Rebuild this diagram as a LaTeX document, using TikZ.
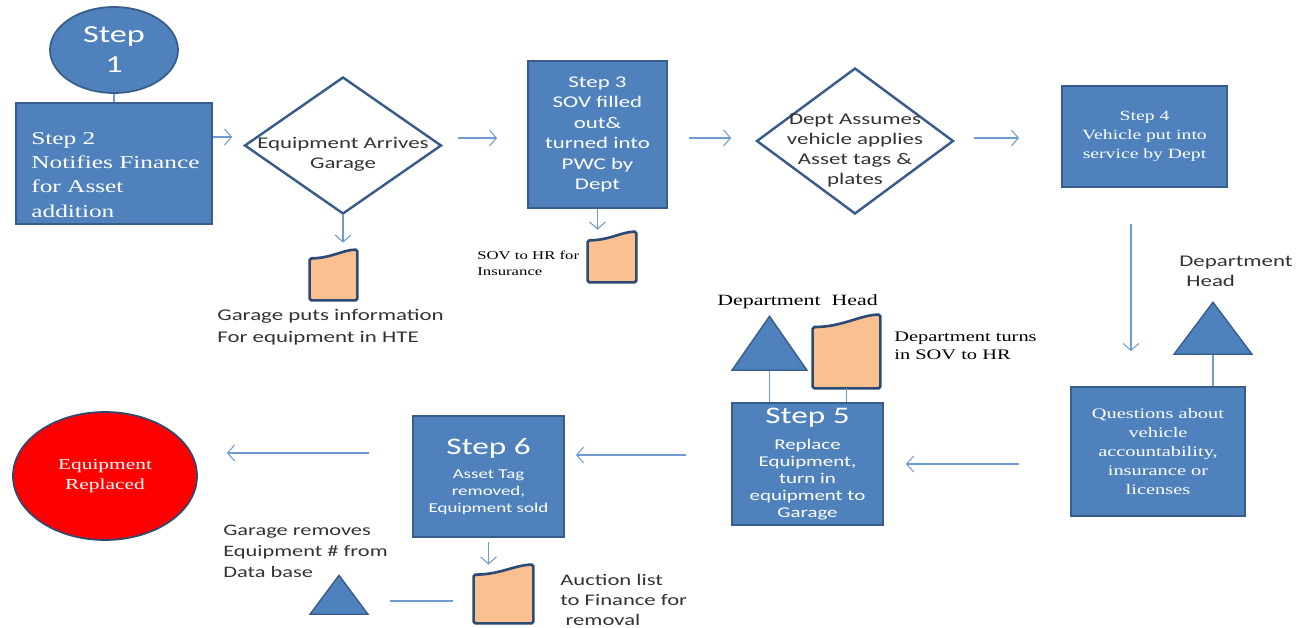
\documentclass[tikz,border=0pt]{standalone}
\usepackage{fontspec}
\setmainfont{Liberation Serif}[FakeStretch=1.4]
\setsansfont{Carlito}[FakeStretch=1.4]
\usepackage{tikz}
\usetikzlibrary{shapes.geometric,arrows.meta,positioning}

\definecolor{StepBlue}{HTML}{4F81BD}
\definecolor{StepEdge}{HTML}{385D8A}
\definecolor{FlowBlue}{HTML}{6F9BD1}
\definecolor{DocFill}{HTML}{FAC090}
\definecolor{DocEdge}{HTML}{2B4A75}
\definecolor{NoteGray}{HTML}{333333}

% document symbol drawn over an empty box node: name, width, height (px)
\newcommand{\DrawDoc}[3]{%
  \draw[DocLine] (#1.south west) -- ++(0,-0.84*#3)
    .. controls +(0.45*#2,0) and ([xshift=-0.3*#2*0.02cm]#1.north east) .. (#1.north east)
    -- (#1.south east) -- cycle;}

\begin{document}
\begin{tikzpicture}[x=0.02cm,y=-0.02cm]
		\tikzstyle{StepBox}	= [rectangle, draw=StepEdge, line width=1pt, fill=StepBlue, text=white, align=center, inner sep=0pt]
		\tikzstyle{StepOval}	= [ellipse, draw=StepEdge, line width=1pt, fill=StepBlue, text=white, align=center, inner sep=0pt]
		\tikzstyle{EndOval}	= [ellipse, draw=StepEdge!80!black, line width=1pt, fill=red, text=white, align=center, inner sep=0pt]
		\tikzstyle{Decision}	= [diamond, draw=StepEdge, line width=1.4pt, fill=white, inner sep=0pt]
		\tikzstyle{DecText}	= [align=center, text=NoteGray, inner sep=0pt, font=\sffamily\fontsize{9.3}{11.4}\selectfont]
		\tikzstyle{Person}	= [isosceles triangle, isosceles triangle stretches, shape border rotate=90, anchor=south, draw=StepEdge, line width=0.8pt, fill=StepBlue, inner sep=0pt]
		\tikzstyle{DocBox}	= [rectangle, inner sep=0pt]
		\tikzstyle{DocLine}	= [draw=DocEdge, line width=1.5pt, fill=DocFill, rounded corners=1pt]
		\tikzstyle{Flow}	= [draw=FlowBlue, line width=0.6pt, -{Straight Barb[length=4pt,width=9pt]}]
		\tikzstyle{Link}	= [draw=FlowBlue, line width=0.8pt]
		\tikzstyle{SansNote}	= [anchor=west, align=left, text=NoteGray, inner sep=0pt]
		\tikzstyle{SerifNote}	= [anchor=west, align=left, text=black, inner sep=0pt]

		\useasboundingbox (0,0) rectangle (1303,628);

		% top row
		\node (step1) at (114,50) [StepOval, minimum width=2.56cm, minimum height=1.72cm, font=\sffamily\fontsize{13.9}{17}\selectfont] {Step\\1};
		\node (step2) at (114,163.5) [StepBox, minimum width=3.92cm, minimum height=2.42cm] {};
		\node (step2txt) at (31,175) [SerifNote, text=white, font=\rmfamily\fontsize{10.3}{13.7}\selectfont] {Step 2\\Notifies Finance\\for Asset\\addition};

		\node (dia1) at (343,145.5) [Decision, minimum width=3.94cm, minimum height=2.74cm] {};
		\node (dia1txt) at (343,154) [DecText] {Equipment Arrives\\Garage};
		\node (doc1) at (333.5,275) [DocBox, minimum width=0.94cm, minimum height=1cm] {};
		\node (note1) at (217,327) [SansNote, font=\sffamily\fontsize{9.3}{12.5}\selectfont] {Garage puts information\\For equipment in HTE};

		\node (step3) at (597.5,134.5) [StepBox, minimum width=2.78cm, minimum height=2.94cm, font=\sffamily\fontsize{9.3}{11.7}\selectfont] {Step 3\\SOV filled\\out\&\\turned into\\PWC by\\Dept};
		\node (doc2) at (612,257) [DocBox, minimum width=0.96cm, minimum height=1cm] {};
		\node (note2) at (477,263) [SerifNote, font=\rmfamily\fontsize{6.8}{9.1}\selectfont] {SOV to HR for\\Insurance};

		\node (dia2) at (855,141) [Decision, minimum width=3.94cm, minimum height=2.92cm] {};
		\node (dia2txt) at (855,150.5) [DecText] {Dept Assumes\\vehicle applies\\Asset tags \&\\plates};

		\node (step4) at (1144.5,136.5) [StepBox, minimum width=3.3cm, minimum height=2.02cm, font=\rmfamily\fontsize{8}{10.8}\selectfont] {Step 4\\Vehicle put into\\service by Dept};

		% right side
		\node (headR) at (1213,355) [Person, minimum width=1.56cm, minimum height=1.04cm] {};
		\node (noteR) at (1179,271) [SansNote, font=\sffamily\fontsize{9.3}{11.4}\selectfont] {Department\\\hspace*{4pt}Head};
		\node (questions) at (1158,451.5) [StepBox, minimum width=3.48cm, minimum height=2.58cm, font=\rmfamily\fontsize{8.3}{10.8}\selectfont] {Questions about\\vehicle\\accountability,\\insurance or\\licenses};

		% bottom row
		\node (step5) at (807.5,464) [StepBox, minimum width=3.02cm, minimum height=2.44cm, font=\sffamily\fontsize{8.5}{9.7}\selectfont] {{\fontsize{13.5}{15}\selectfont Step 5}\\[5pt]Replace\\Equipment,\\turn in\\equipment to\\Garage};
		\node (headL) at (769.5,371) [Person, minimum width=1.5cm, minimum height=1.08cm] {};
		\node (doc3) at (846.5,351.5) [DocBox, minimum width=1.34cm, minimum height=1.46cm] {};
		\node (noteL) at (717,302) [SerifNote, font=\rmfamily\fontsize{8.9}{10.2}\selectfont] {Department\ \ Head};
		\node (note3) at (894,346) [SerifNote, font=\rmfamily\fontsize{8.3}{10.2}\selectfont] {Department turns\\in SOV to HR};

		\node (step6) at (488.5,476.5) [StepBox, minimum width=3.02cm, minimum height=2.42cm, font=\sffamily\fontsize{7.7}{9.7}\selectfont] {{\fontsize{13.5}{15}\selectfont Step 6}\\[4pt]Asset Tag\\removed,\\Equipment sold};
		\node (doc4) at (503.5,594) [DocBox, minimum width=1.18cm, minimum height=1.16cm] {};
		\node (note4) at (560,600) [SansNote, font=\sffamily\fontsize{9.2}{11.4}\selectfont] {Auction list\\to Finance for\\\hspace*{3pt}removal};
		\node (headG) at (339,615) [Person, minimum width=1.16cm, minimum height=0.78cm] {};
		\node (note5) at (223,551) [SansNote, font=\sffamily\fontsize{9.1}{12}\selectfont] {Garage removes\\Equipment \# from\\Data base};

		\node (done) at (105,476) [EndOval, minimum width=3.68cm, minimum height=2.56cm, font=\rmfamily\fontsize{8.7}{11.4}\selectfont] {Equipment\\Replaced};

		\DrawDoc{doc1}{47}{50}
		\DrawDoc{doc2}{48}{50}
		\DrawDoc{doc3}{67}{73}
		\DrawDoc{doc4}{59}{58}

		\draw [Link] (step1) to (step2);
		\draw [Flow, shorten >=0.22cm] (step2.east |- 0,137) to (dia1.west |- 0,137);
		\draw [Flow, shorten <=0.3cm, shorten >=0.6cm] (dia1.east |- 0,138) to (step3.west |- 0,138);
		\draw [Flow, shorten <=0.42cm, shorten >=0.48cm] (step3.east |- 0,138) to (dia2.west |- 0,138);
		\draw [Flow, shorten <=0.38cm, shorten >=0.84cm] (dia2.east |- 0,138) to (step4.west |- 0,138);
		\draw [Flow, shorten >=0.14cm] (dia1.south) to (dia1.south |- doc1.north);
		\draw [Flow, shorten >=0.04cm] (step3.south) to (step3.south |- doc2.north);
		\draw [Flow, shorten <=0.72cm, shorten >=0.7cm] (1131,0 |- step4.south) to (1131,0 |- questions.north);
		\draw [Link] (headR.south) to (headR.south |- questions.north);
		\draw [Flow, shorten <=1.02cm, shorten >=0.44cm] (questions.west |- 0,464) to (step5.east |- 0,464);
		\draw [Link] (headL.south) to (headL.south |- step5.north);
		\draw [Link] (doc3.south) to (doc3.south |- step5.north);
		\draw [Flow, shorten <=0.9cm, shorten >=0.22cm] (step5.west |- 0,455) to (step6.east |- 0,455);
		\draw [Flow, shorten <=0.86cm, shorten >=0.58cm] (step6.west |- 0,453) to (done.east |- 0,453);
		\draw [Flow, shorten <=0.08cm] (step6.south) to (step6.south |- doc4.north);
		\draw [Link, shorten <=0.42cm, shorten >=1.02cm] (doc4.west |- 0,601) to (headG.center |- 0,601);
	\end{tikzpicture}
\end{document}
